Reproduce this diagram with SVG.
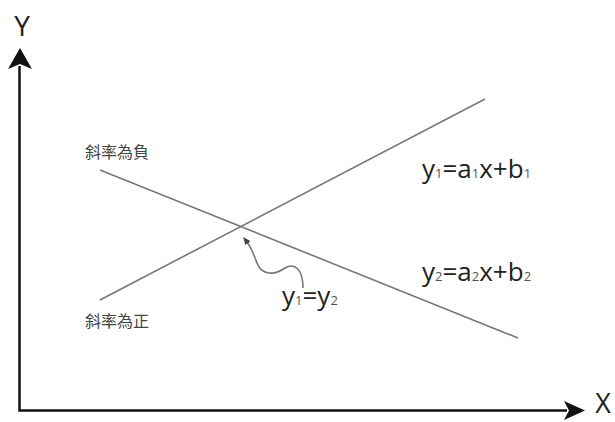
<svg xmlns="http://www.w3.org/2000/svg" width="615" height="422" viewBox="0 0 615 422">
<defs>
<style>
.ax{stroke:#111;stroke-width:2.5;fill:none}
.ln{stroke:#777;stroke-width:1.6;fill:none}
.lbl{font-family:"Open Sans","Noto Sans",sans-serif;fill:#222}
.cjk{font-family:"Noto Sans CJK TC","Noto Sans CJK SC",sans-serif;fill:#444;font-size:16px}
.sub{font-size:13px;fill:#555}
</style>
<marker id="dot" viewBox="0 0 10 10" refX="2" refY="5" markerWidth="5" markerHeight="5" orient="auto-start-reverse">
<path d="M0,1 L10,5 L0,9 z" fill="#444"/>
</marker>
</defs>
<rect width="615" height="422" fill="#fff"/>
<g id="axes">
<path class="ax" d="M19.5,66 L19.5,410.5 L567,410.5"/>
<path d="M20,48 L8,69 L20,64 L32,69 z" fill="#111"/>
<path d="M585,410.5 L564,401 L569,410.5 L564,420 z" fill="#111"/>
<text class="lbl" x="22" y="36" font-size="28" text-anchor="middle">Y</text>
<text class="lbl" x="603" y="413" font-size="27" text-anchor="middle">X</text>
</g>
<g id="connectors">
<line class="ln" x1="100" y1="300" x2="485" y2="99"/>
<line class="ln" x1="100" y1="170" x2="518" y2="338"/>
<path class="ln" d="M303,288 C303,270 295,262 285,268 C275,275 262,276 257,263 C253,252 250,246 247,242" marker-end="url(#dot)"/>
</g>
<g id="label-neg"><text class="cjk" x="85" y="158">斜率為負</text></g>
<g id="label-pos"><text class="cjk" x="85" y="327">斜率為正</text></g>
<g id="eq1"><text class="lbl" x="422" y="178" font-size="26">y<tspan class="sub">1</tspan>=a<tspan class="sub">1</tspan>x+b<tspan class="sub">1</tspan></text></g>
<g id="eq2"><text class="lbl" x="422" y="281" font-size="26">y<tspan class="sub">2</tspan>=a<tspan class="sub">2</tspan>x+b<tspan class="sub">2</tspan></text></g>
<g id="eq3"><text class="lbl" x="282" y="305" font-size="26">y<tspan class="sub">1</tspan>=y<tspan class="sub">2</tspan></text></g>
</svg>
